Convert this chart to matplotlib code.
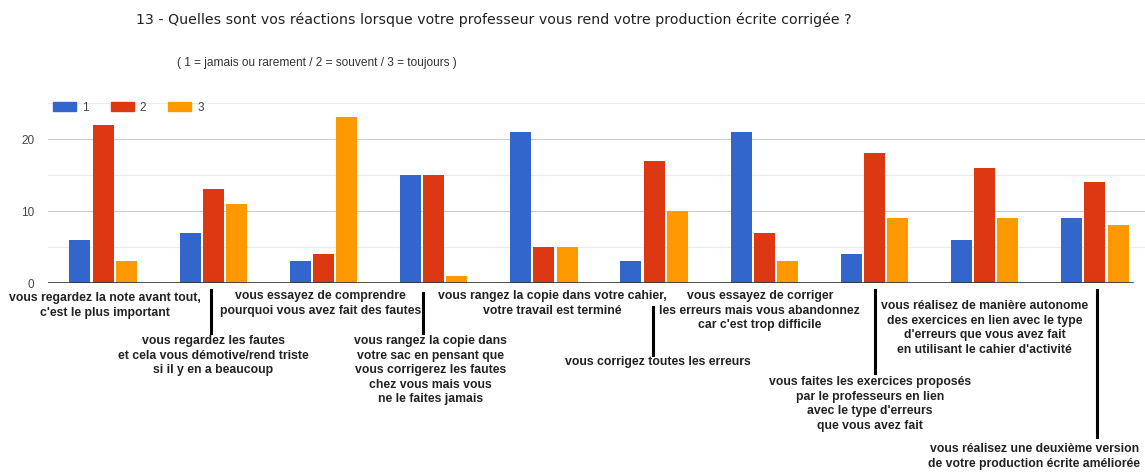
import matplotlib
matplotlib.use('Agg')
import matplotlib.pyplot as plt
from matplotlib.transforms import blended_transform_factory
from matplotlib.patches import Patch

plt.rcParams['font.family'] = ['Liberation Sans', 'DejaVu Sans']

# data
series_names = ['1', '2', '3']
jamais = [6, 7, 3, 15, 21, 3, 21, 4, 6, 9]
souvent = [22, 13, 4, 15, 5, 17, 7, 18, 16, 14]
toujours = [3, 11, 23, 1, 5, 10, 3, 9, 9, 8]
categories = [
    "vous regardez la note avant tout,\nc'est le plus important",
    "vous regardez les fautes\net cela vous démotive/rend triste\nsi il y en a beaucoup",
    "vous essayez de comprendre\npourquoi vous avez fait des fautes",
    "vous rangez la copie dans\nvotre sac en pensant que\nvous corrigerez les fautes\nchez vous mais vous\nne le faites jamais",
    "vous rangez la copie dans votre cahier,\nvotre travail est terminé",
    "vous corrigez toutes les erreurs",
    "vous essayez de corriger\nles erreurs mais vous abandonnez\ncar c'est trop difficile",
    "vous faites les exercices proposés\npar le professeurs en lien\navec le type d'erreurs\nque vous avez fait",
    "vous réalisez de manière autonome\ndes exercices en lien avec le type\nd'erreurs que vous avez fait\nen utilisant le cahier d'activité",
    "vous réalisez une deuxième version\nde votre production écrite améliorée",
]
colors = ['#3366cc', '#dc3912', '#ff9900']

W, H = 1145, 476
fig = plt.figure(figsize=(W / 100, H / 100), dpi=100)
ax = fig.add_axes([48 / W, (H - 283) / H, (1150 - 48) / W, 180 / H])

x = list(range(len(categories)))
bw = 0.19
step = 0.21
for k, vals in enumerate([jamais, souvent, toujours]):
    ax.bar([i + (k - 1) * step for i in x], vals, width=bw, color=colors[k], zorder=3)

ax.set_xlim(-0.5, len(categories) - 0.5)
ax.set_ylim(0, 25)
ax.set_yticks([0, 10, 20])
ax.set_xticks([])
for v in [5, 15, 25]:
    ax.axhline(v, color='#ebebeb', lw=0.8, zorder=1)
for v in [10, 20]:
    ax.axhline(v, color='#cccccc', lw=0.8, zorder=1)
ax.axhline(0, xmax=0.985, color='#333333', lw=1.2, zorder=4)
for s in ax.spines.values():
    s.set_visible(False)
ax.tick_params(axis='y', length=0, labelsize=8.5, labelcolor='#444444', pad=10)

# title and subtitle
fig.text(136 / W, 1 - 20 / H, "13 - Quelles sont vos réactions lorsque votre professeur vous rend votre production écrite corrigée ?",
         fontsize=10.2, family='DejaVu Sans', color='#222222', ha='left', va='center')
fig.text(177 / W, 1 - 63 / H, "( 1 = jamais ou rarement / 2 = souvent / 3 = toujours )",
         fontsize=8.6, color='#333333', ha='left', va='center')

# legend
handles = [Patch(color=c, label=n) for c, n in zip(colors, series_names)]
fig.legend(handles=handles, loc='center left', bbox_to_anchor=(42 / W, 1 - 108 / H), ncol=3,
           frameon=False, fontsize=8.5, handlelength=1.95, handleheight=0.8,
           columnspacing=1.9, handletextpad=0.5, labelcolor='#444444')

# category labels under the axis, staggered with connector lines
tr = blended_transform_factory(ax.transData, fig.transFigure)
label_top = [292, 335, 290, 335, 290, 356, 290, 376, 300, 443]
label_dx = [0.02, 0, -0.03, -0.03, 0.08, 0.03, -0.04, -0.04, 0.0, -0.55]
for i, lab in enumerate(categories):
    ax.text(i + label_dx[i], 1 - label_top[i] / H, lab, transform=tr, ha='center', va='top',
            fontsize=8.8, fontweight='bold', color='#222222', linespacing=1.28, clip_on=False)

line_x = [1, 3, 5, 7, 9]
line_dx = [-0.02, -0.1, -0.01, 0.0, 0.02]
line_y0 = [290, 293, 307, 290, 290]
line_y1 = [333, 333, 355, 373, 437]
for lx, dx, y0, y1 in zip(line_x, line_dx, line_y0, line_y1):
    ax.plot([lx + dx, lx + dx], [1 - y0 / H, 1 - y1 / H], transform=tr, color='black', lw=2.2,
            clip_on=False)

fig.savefig('out.png', dpi=100, facecolor='white')
